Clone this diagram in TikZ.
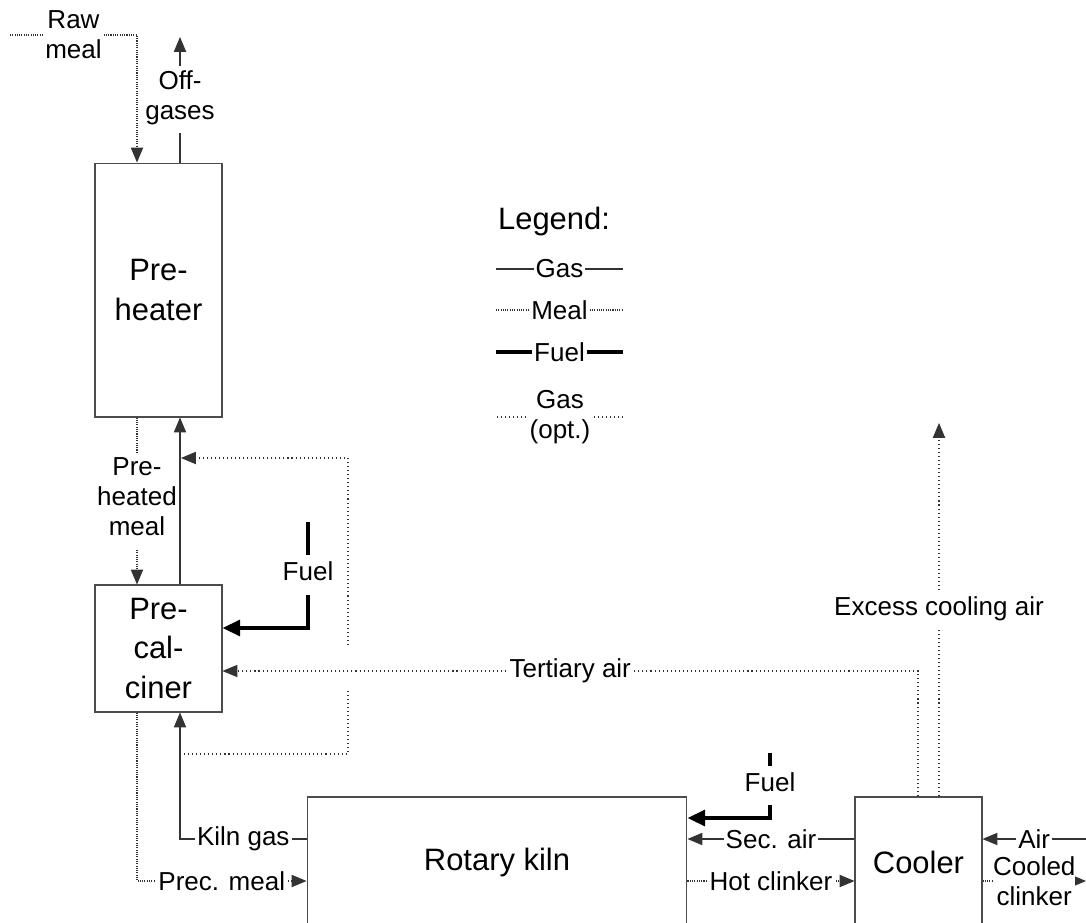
\documentclass[tikz,border=0pt]{standalone}
\usepackage{fontspec}
\setmainfont{Liberation Sans}
\usetikzlibrary{arrows.meta,positioning}
\tikzset{
  box/.style={draw=black!70, line width=0.6pt, minimum width=2.54cm, inner sep=0pt, align=center, font=\fontsize{17.6}{22.7}\selectfont},
  lbl/.style={fill=white, inner xsep=1.2pt, inner ysep=0.5pt, align=center, font=\fontsize{14.8}{17}\selectfont},
  vlbl/.style={lbl, inner ysep=2.7pt, execute at begin node=\strut, execute at end node=\strut},
  gas/.style={draw=black!80, line width=0.6pt},
  meal/.style={draw=black!80, line width=0.6pt, dash pattern=on 0.6pt off 0.7pt},
  optgas/.style={draw=black!80, line width=0.6pt, dash pattern=on 0.6pt off 1.7pt},
  fuel/.style={draw=black, line width=2pt, -{Triangle[length=10pt,width=9pt]}},
}
\begin{document}
\begin{tikzpicture}[x=0.02cm, y=-0.02cm, >={Triangle[length=8.5pt,width=7pt]}]
\useasboundingbox (0,0) rectangle (1086,923);
\clip (0,0) rectangle (1086,923);

\coordinate (colM) at (137,0);
\coordinate (colG) at (180,0);
\coordinate (rowA) at (0,839);
\coordinate (rowB) at (0,881);

\node[box, minimum height=5.08cm] (pre) at (158.5,290) {Pre-\\heater};
\node[box, minimum height=2.54cm] (calc) at (158.5,648.5) {Pre-\\cal-\\ciner};
\node[box, minimum width=7.6cm, minimum height=2.6cm] (kiln) at (497,862) {Rotary kiln};
\node[box, minimum height=2.6cm] (cool) at (918.5,862) {Cooler};

\node[font=\fontsize{17.6}{22.7}\selectfont] (leg) at (554,222) {Legend:};
\draw[gas] (496,269) -- node[lbl] (legGas) {Gas} (623,269);
\draw[meal] (496,310) -- node[lbl] (legMeal) {Meal} (623,310);
\draw[fuel, -] (496,352) -- node[lbl] (legFuel) {Fuel} (623,352);
\draw[optgas] (497,417) -- node[lbl] (legOpt) {Gas\\(opt.)} (623,417);

\coordinate (rawIn) at (10,35);
\draw[meal,->] (rawIn) -- node[lbl] (raw) {Raw\\meal} (colM |- rawIn) -- (colM |- pre.north);

\coordinate (offOut) at (180,37);
\draw[gas,->] (colG |- pre.north) -- node[vlbl] (off) {Off-\\gases} (offOut);

\draw[meal,->] (colM |- pre.south) -- node[vlbl] (phm) {Pre-\\heated\\meal} (colM |- calc.north);
\draw[gas,->] (colG |- calc.north) -- (colG |- pre.south);

\coordinate (fuelTop) at (308,522);
\coordinate (fuelBend) at (308,628);
\draw[fuel] (fuelTop) -- node[vlbl] (fuel1) {Fuel} (fuelBend) -- (calc.east |- fuelBend);

\coordinate (loopIn) at (180,754);
\coordinate (loopOut) at (181,458);
\draw[optgas,->] (loopIn) -- (348,754) -- (348,690) (348,645) -- (348,458) -- (loopOut);

\coordinate (terUp) at (918,671);
\draw[optgas,->] (terUp |- cool.north) -- (terUp) -- node[lbl] (ter) {Tertiary air} (calc.east |- terUp);

\coordinate (excOut) at (939,423);
\draw[optgas,->] (excOut |- cool.north) -- node[vlbl] (exc) {Excess cooling air} (excOut);

\draw[gas,->] (kiln.west |- rowA) -- node[lbl] (kgas) {Kiln gas} (colG |- rowA) -- (colG |- calc.south);
\draw[meal,->] (colM |- calc.south) -- (colM |- rowB) -- node[lbl] (pmeal) {Prec. meal} (kiln.west |- rowB);

\coordinate (fuel2Top) at (770,753);
\coordinate (fuel2Bend) at (770,818);
\draw[fuel] (fuel2Top) -- node[vlbl] (fuel2) {Fuel} (fuel2Bend) -- (kiln.east |- fuel2Bend);

\draw[gas,->] (cool.west |- rowA) -- node[lbl] (sec) {Sec. air} (kiln.east |- rowA);
\draw[meal,->] (kiln.east |- rowB) -- node[lbl] (hot) {Hot clinker} (cool.west |- rowB);

\coordinate (clkOut) at (1086,881);
\draw[meal,->] (cool.east |- clkOut) -- node[lbl, inner xsep=0pt] (clk) {Cooled\\clinker} (clkOut);
\coordinate (airIn) at (1086,839);
\draw[gas,->] (airIn) -- node[lbl] (air) {Air} (cool.east |- airIn);
\end{tikzpicture}
\end{document}
